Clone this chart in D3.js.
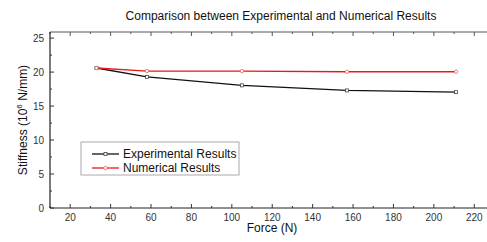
<!DOCTYPE html>
<html>
<head>
<meta charset="utf-8">
<script src="https://cdn.jsdelivr.net/npm/d3@7"></script>
<style>
	body{margin:0;background:#fff;}
	text{font-family:"Liberation Sans",Arial,sans-serif;}
</style>
</head>
<body>
<script>
const force=[33,58,105,157,211]
const experimental=[20.6,19.3,18.05,17.3,17.05]
const numerical=[20.6,20.15,20.15,20.05,20.05]
const xTicks=[20,40,60,80,100,120,140,160,180,200,220]
const yTicks=[0,5,10,15,20,25]

const W=487,H=242
const margin=({top:32,right:0,bottom:34,left:50})
const width=W-margin.left-margin.right,
	height=H-margin.top-margin.bottom

let svg=d3.select('body').append('svg')
	.attr('width',W)
	.attr('height',H)

let g=svg.append('g')
	.attr('transform','translate('+margin.left+','+margin.top+')')

let xScale=d3.scaleLinear()
	.domain([10,226.3])
	.range([0,width])

let yScale=d3.scaleLinear()
	.domain([0,25.9])
	.range([height,0])

// minor ticks
const xMinor=d3.range(10,226,10)
const yMinor=d3.range(0,26,2.5)

// bottom axis
let bottomAxis=g.append('g').attr('transform',`translate(0,${height})`)
bottomAxis.append('line').attr('x1',0).attr('x2',width).attr('stroke','#222').attr('stroke-width',1.2)
bottomAxis.selectAll('.mn').data(xMinor).join('line')
	.attr('x1',d=>xScale(d)).attr('x2',d=>xScale(d))
	.attr('y1',0).attr('y2',d=>d%20==0?-4:-2)
	.attr('stroke','#333')
bottomAxis.selectAll('text').data(xTicks).join('text')
	.attr('x',d=>xScale(d)).attr('y',12.5)
	.attr('text-anchor','middle')
	.attr('font-size',10).attr('fill','#333')
	.text(d=>d)

// top axis
let topAxis=g.append('g')
topAxis.append('line').attr('x1',0).attr('x2',width).attr('stroke','#555').attr('stroke-width',1)
topAxis.selectAll('.mn').data(xMinor).join('line')
	.attr('x1',d=>xScale(d)).attr('x2',d=>xScale(d))
	.attr('y1',0).attr('y2',d=>d%20==0?4:2)
	.attr('stroke','#555')

// left axis
let leftAxis=g.append('g')
leftAxis.append('line').attr('y1',0).attr('y2',height).attr('stroke','#222').attr('stroke-width',1.2)
leftAxis.selectAll('.mn').data(yMinor).join('line')
	.attr('y1',d=>yScale(d)).attr('y2',d=>yScale(d))
	.attr('x1',0).attr('x2',d=>d%5==0?4:2)
	.attr('stroke','#333')
leftAxis.selectAll('text').data(yTicks).join('text')
	.attr('x',-6).attr('y',d=>yScale(d)+3.5)
	.attr('text-anchor','end')
	.attr('font-size',10).attr('fill','#333')
	.text(d=>d)

const line=d3.line()
	.x(d=>xScale(d[0]))
	.y(d=>yScale(d[1]))

const expData=force.map((f,i)=>[f,experimental[i]])
const numData=force.map((f,i)=>[f,numerical[i]])

g.append('path').datum(expData)
	.attr('fill','none').attr('stroke','#111').attr('stroke-width',1.3)
	.attr('d',line)
g.append('path').datum(numData)
	.attr('fill','none').attr('stroke','#e8181c').attr('stroke-width',1.3)
	.attr('d',line)

g.selectAll('.sq').data(expData).join('rect')
	.attr('x',d=>xScale(d[0])-1.5).attr('y',d=>yScale(d[1])-1.5)
	.attr('width',3).attr('height',3)
	.attr('fill','#fff').attr('stroke','#444').attr('stroke-width',0.8)
g.selectAll('.ci').data(numData).join('circle')
	.attr('cx',d=>xScale(d[0])).attr('cy',d=>yScale(d[1]))
	.attr('r',1.7)
	.attr('fill','#fff').attr('stroke','#e86060').attr('stroke-width',0.8)

// legend
let legend=svg.append('g')
legend.append('rect')
	.attr('x',81).attr('y',142).attr('width',158).attr('height',33)
	.attr('fill','#fff').attr('stroke','#aaa').attr('stroke-width',1)
const legendItems=[['Experimental Results','#111','sq'],['Numerical Results','#e8181c','ci']]
legendItems.forEach((it,i)=>{
	const y=154+i*14
	legend.append('line').attr('x1',92).attr('x2',119).attr('y1',y).attr('y2',y)
		.attr('stroke',it[1]).attr('stroke-width',1.3)
	if(it[2]=='sq'){
		legend.append('rect').attr('x',104).attr('y',y-1.5).attr('width',3).attr('height',3)
			.attr('fill','#fff').attr('stroke','#444').attr('stroke-width',0.8)
	}else{
		legend.append('circle').attr('cx',105.5).attr('cy',y).attr('r',1.7)
			.attr('fill','#fff').attr('stroke','#e86060').attr('stroke-width',0.8)
	}
	legend.append('text').attr('x',123).attr('y',y+4)
		.attr('font-size',12).attr('fill','#111')
		.text(it[0])
})

// title & axis labels
svg.append('text')
	.attr('x',281).attr('y',20)
	.attr('text-anchor','middle').attr('font-size',12).attr('fill','#111')
	.text('Comparison between Experimental and Numerical Results')

svg.append('text')
	.attr('x',272).attr('y',232)
	.attr('text-anchor','middle').attr('font-size',12).attr('fill','#111')
	.text('Force (N)')

let yl=svg.append('text')
	.attr('transform','translate(27,120) rotate(-90)')
	.attr('text-anchor','middle').attr('font-size',12).attr('fill','#111')
yl.append('tspan').text('Stiffness (10')
yl.append('tspan').attr('font-size',8).attr('dy',-5).text('6')
yl.append('tspan').attr('dy',5).text(' N/mm)')
</script>
</body>
</html>
